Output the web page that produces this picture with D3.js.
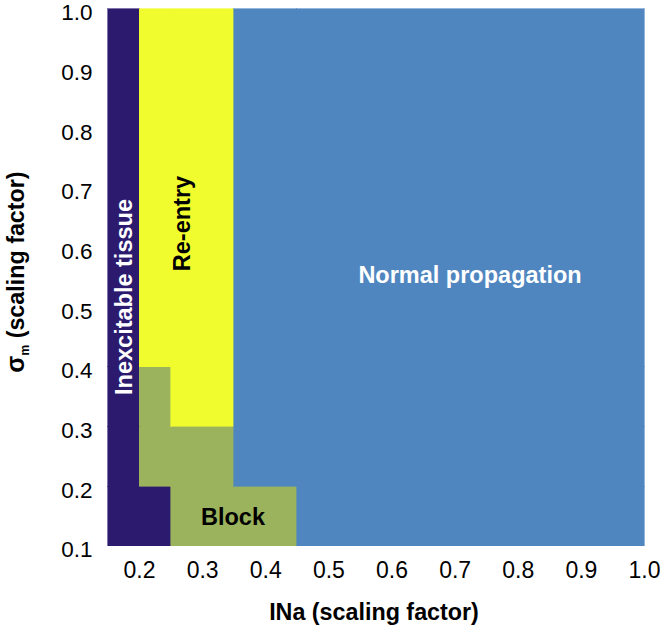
<!DOCTYPE html>
<html>
<head>
<meta charset="utf-8">
<script src="https://cdn.jsdelivr.net/npm/d3@7"></script>
<style>
  html, body { margin: 0; padding: 0; background: #fff; }
  svg { display: block; font-family: Arial, "Liberation Sans", sans-serif; }
</style>
</head>
<body>
<svg id="chart" width="660" height="628"></svg>
<script>
// ---- data ----
const xEdges = [0.15, 0.20, 0.25, 0.35, 0.45, 1.00];   // INa scaling factor column edges
const yEdges = [0.1, 0.2, 0.3, 0.4, 1.0];               // sigma_m scaling factor row edges
// outcome per row (bottom to top) and column (left to right)
const outcomeRows = [
  ["I", "I", "B", "B", "N"],   // 0.1 - 0.2
  ["I", "B", "B", "N", "N"],   // 0.2 - 0.3
  ["I", "B", "R", "N", "N"],   // 0.3 - 0.4
  ["I", "R", "R", "N", "N"]    // 0.4 - 1.0
];
const outcomeCodes = ["I", "R", "B", "N"];
const outcomeNames = ["Inexcitable tissue", "Re-entry", "Block", "Normal propagation"];
const xTicks = [0.2, 0.3, 0.4, 0.5, 0.6, 0.7, 0.8, 0.9, 1.0];
const yTicks = [0.1, 0.2, 0.3, 0.4, 0.5, 0.6, 0.7, 0.8, 0.9, 1.0];

// ---- styles ----
const colors = { I: "#2c1a6f", R: "#f1fc2f", B: "#9bb35d", N: "#4f86c0" };

const svg = d3.select("#chart");
const x = d3.scaleLinear().domain([0.15, 1.0]).range([107.5, 644]);
const y = d3.scaleLinear().domain([0.1, 1.0]).range([545.7, 8.7]);

// cells
const cells = [];
outcomeRows.forEach((row, ri) => {
  row.forEach((code, ci) => {
    cells.push({ x0: xEdges[ci], x1: xEdges[ci + 1], y0: yEdges[ri], y1: yEdges[ri + 1], code });
  });
});
svg.append("g").attr("shape-rendering", "crispEdges")
  .selectAll("rect").data(cells).join("rect")
  .attr("x", d => x(d.x0))
  .attr("y", d => y(d.y1))
  .attr("width", d => x(d.x1) - x(d.x0))
  .attr("height", d => y(d.y0) - y(d.y1))
  .attr("fill", d => colors[d.code])
  .attr("stroke", d => colors[d.code])
  .attr("stroke-width", 0.6);

// axes
const xAxis = svg.append("g").attr("transform", `translate(0,${y(0.1)})`)
  .call(d3.axisBottom(x).tickValues(xTicks).tickFormat(d3.format(".1f")).tickSize(0).tickPadding(16));
const yAxis = svg.append("g").attr("transform", `translate(${x(0.15)},0)`)
  .call(d3.axisLeft(y).tickValues(yTicks).tickFormat(d3.format(".1f")).tickSize(0).tickPadding(15));
[xAxis, yAxis].forEach(a => {
  a.select(".domain").remove();
  a.selectAll("text").attr("fill", "#000")
    .attr("font-family", "Arial, 'Liberation Sans', sans-serif");
});
xAxis.selectAll("text").attr("font-size", 23).attr("dy", "0.71em");
yAxis.selectAll("text").attr("font-size", 22.5).attr("dy", "0.5em");

// axis titles
svg.append("text")
  .attr("x", 374).attr("y", 620)
  .attr("text-anchor", "middle")
  .attr("font-size", 23.3).attr("font-weight", "bold")
  .text("INa (scaling factor)");

const yt = svg.append("text")
  .attr("transform", "translate(24,272) rotate(-90)")
  .attr("text-anchor", "middle")
  .attr("font-size", 23.3).attr("font-weight", "bold");
yt.append("tspan").attr("font-size", 25).text("σ");
yt.append("tspan").attr("font-size", 12).attr("dy", 5).text("m");
yt.append("tspan").attr("dy", -5).text(" (scaling factor)");

// region labels
const lbl = (name, tx, ty, rot, fill) => {
  svg.append("text")
    .attr("transform", `translate(${tx},${ty})` + (rot ? " rotate(-90)" : ""))
    .attr("text-anchor", "middle")
    .attr("font-size", 23.5).attr("font-weight", "bold")
    .attr("fill", fill)
    .text(name);
};
lbl(outcomeNames[0], (x(xEdges[0]) + x(xEdges[1])) / 2 + 8.3, 297, true, "#fff");
lbl(outcomeNames[1], 190, 223.5, true, "#000");
lbl(outcomeNames[2], 233, 525, false, "#000");
lbl(outcomeNames[3], 470, 283, false, "#fff");
</script>
</body>
</html>
